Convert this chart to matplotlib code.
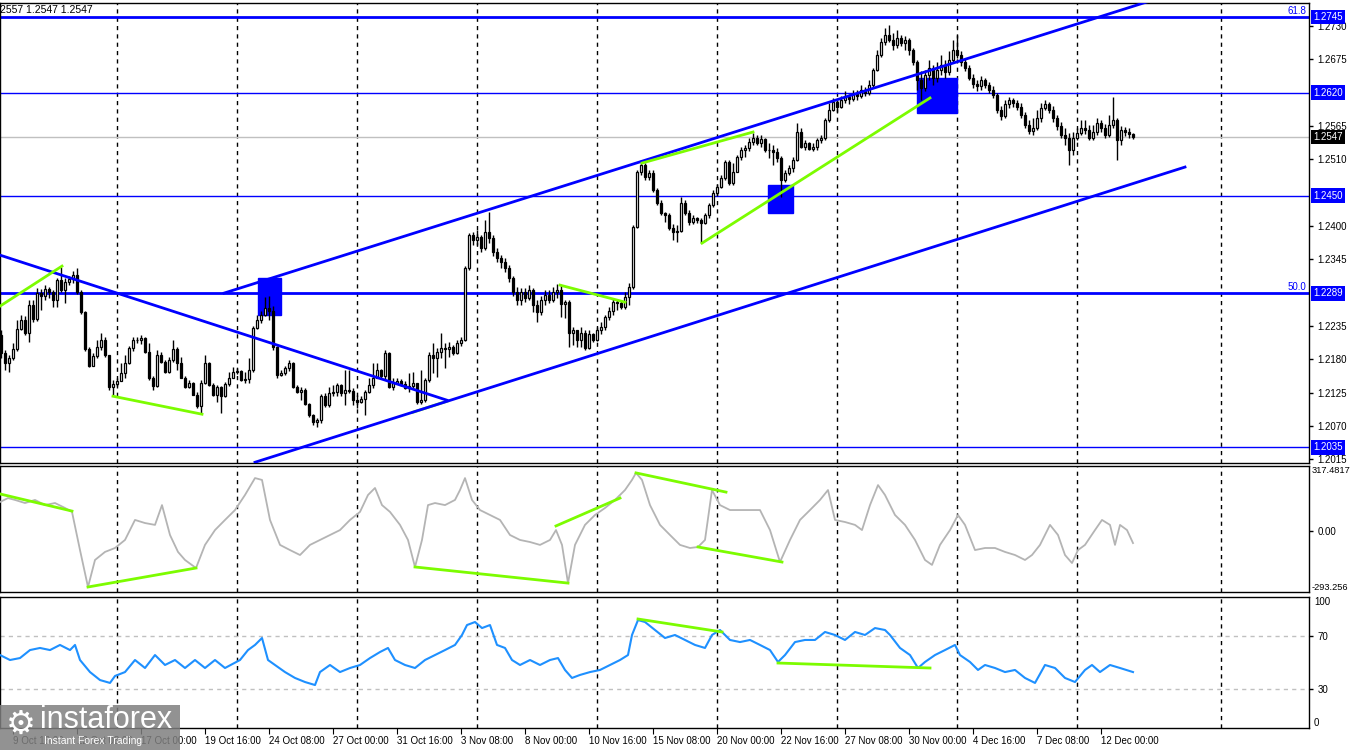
import numpy as np
import matplotlib
matplotlib.use("Agg")
import matplotlib.pyplot as plt
from matplotlib.patches import Rectangle

plt.rcParams['font.family'] = ['Liberation Sans', 'DejaVu Sans']

# ---------------- data ----------------
first_open = 1.2221
close = [1.2190,1.2174,1.2182,1.2197,1.2230,1.2245,1.2223,1.2270,1.2246,1.2289,
1.2284,1.2296,1.2291,1.2278,1.2311,1.2294,1.2308,1.2312,1.2319,1.2291,
1.2258,1.2197,1.2169,1.2185,1.2200,1.2212,1.2187,1.2134,1.2139,1.2144,
1.2157,1.2174,1.2199,1.2212,1.2212,1.2215,1.2192,1.2149,1.2136,1.2188,
1.2176,1.2159,1.2179,1.2197,1.2174,1.2150,1.2134,1.2141,1.2122,1.2103,
1.2141,1.2174,1.2138,1.2121,1.2134,1.2119,1.2139,1.2150,1.2159,1.2160,
1.2146,1.2148,1.2162,1.2232,1.2245,1.2253,1.2265,1.2259,1.2200,1.2154,
1.2157,1.2166,1.2174,1.2134,1.2126,1.2129,1.2106,1.2088,1.2077,1.2080,
1.2119,1.2105,1.2124,1.2126,1.2138,1.2124,1.2129,1.2128,1.2113,1.2110,
1.2115,1.2126,1.2138,1.2150,1.2162,1.2152,1.2190,1.2134,1.2141,1.2144,
1.2139,1.2132,1.2136,1.2141,1.2110,1.2113,1.2146,1.2187,1.2183,1.2192,
1.2199,1.2197,1.2200,1.2190,1.2207,1.2212,1.2330,1.2385,
1.2377,1.2382,1.2364,1.2390,1.2380,1.2357,1.2347,1.2341,1.2331,1.2314,
1.2291,1.2278,1.2291,1.2281,1.2294,1.2270,1.2258,1.2278,1.2286,1.2278,
1.2291,1.2294,1.2271,1.2275,1.2223,1.2228,1.2212,1.2223,1.2198,1.2222,
1.2212,1.2228,1.2233,1.2250,1.2259,1.2275,1.2273,1.2266,1.2283,1.2299,
1.2398,1.2489,1.2501,1.2481,1.2487,1.2459,1.2438,1.2421,1.2418,1.2396,
1.2390,1.2391,1.2438,1.2421,1.2407,1.2413,1.2410,1.2405,1.2418,1.2435,
1.2454,1.2464,1.2479,1.2506,1.2471,1.2489,1.2514,1.2525,1.2529,1.2539,
1.2545,1.2537,1.2544,1.2525,1.2525,1.2522,1.2512,1.2476,1.2487,1.2496,
1.2509,1.2555,1.2530,1.2537,1.2527,1.2530,1.2542,1.2545,1.2575,1.2592,
1.2605,1.2597,1.2608,1.2613,1.2610,1.2618,1.2615,1.2625,1.2620,1.2633,
1.2658,1.2682,1.2704,1.2715,1.2707,1.2699,1.2710,1.2702,1.2707,1.2691,
1.2671,1.2641,1.2628,1.2650,1.2661,1.2644,1.2658,1.2666,1.2654,1.2674,
1.2691,1.2682,1.2671,1.2661,1.2644,1.2634,1.2631,1.2641,1.2633,1.2625,
1.2616,1.2592,1.2582,1.2601,1.2608,1.2603,1.2597,1.2583,1.2567,1.2557,
1.2562,1.2578,1.2595,1.2601,1.2592,1.2578,1.2565,1.2550,1.2545,1.2525,
1.2545,1.2553,1.2562,1.2558,1.2545,1.2555,1.2570,1.2562,1.2550,1.2567,
1.2575,1.2542,1.2558,1.2555,1.2552,1.2547]
high = [1.2228,1.2195,1.2187,1.2207,1.2245,1.2253,1.2251,1.2278,1.2278,1.2297,
1.2296,1.2302,1.2299,1.2294,1.2314,1.2332,1.2314,1.2317,1.2325,1.2330,
1.2294,1.2259,1.2200,1.2190,1.2212,1.2223,1.2217,1.2188,1.2146,1.2149,
1.2174,1.2187,1.2202,1.2217,1.2217,1.2220,1.2217,1.2207,1.2152,1.2195,
1.2192,1.2179,1.2184,1.2212,1.2200,1.2184,1.2152,1.2146,1.2143,1.2126,
1.2146,1.2188,1.2176,1.2141,1.2138,1.2136,1.2143,1.2159,1.2167,1.2166,
1.2162,1.2159,1.2182,1.2235,1.2253,1.2259,1.2283,1.2284,1.2268,1.2202,
1.2162,1.2169,1.2179,1.2176,1.2138,1.2134,1.2132,1.2108,1.2090,1.2083,
1.2123,1.2124,1.2134,1.2138,1.2141,1.2139,1.2162,1.2162,1.2132,1.2121,
1.2119,1.2129,1.2150,1.2174,1.2174,1.2164,1.2195,1.2192,1.2149,1.2149,
1.2148,1.2144,1.2157,1.2159,1.2141,1.2162,1.2149,1.2192,1.2207,1.2199,
1.2223,1.2207,1.2209,1.2204,1.2212,1.2217,1.2334,1.2388,
1.2390,1.2393,1.2386,1.2410,1.2423,1.2385,1.2364,1.2352,1.2347,1.2336,
1.2318,1.2299,1.2297,1.2297,1.2302,1.2297,1.2278,1.2284,1.2294,1.2294,
1.2299,1.2304,1.2302,1.2278,1.2278,1.2233,1.2228,1.2233,1.2228,1.2228,
1.2223,1.2233,1.2242,1.2253,1.2266,1.2281,1.2278,1.2276,1.2291,1.2306,
1.2402,1.2492,1.2509,1.2504,1.2492,1.2492,1.2463,1.2443,1.2423,1.2421,
1.2403,1.2402,1.2448,1.2443,1.2426,1.2418,1.2415,1.2413,1.2421,1.2438,
1.2459,1.2469,1.2484,1.2509,1.2509,1.2504,1.2517,1.2530,1.2534,1.2545,
1.2553,1.2550,1.2550,1.2545,1.2537,1.2534,1.2529,1.2515,1.2492,1.2501,
1.2514,1.2570,1.2562,1.2542,1.2539,1.2537,1.2545,1.2550,1.2578,1.2603,
1.2611,1.2608,1.2615,1.2622,1.2618,1.2625,1.2625,1.2632,1.2630,1.2641,
1.2661,1.2691,1.2710,1.2727,1.2732,1.2719,1.2724,1.2715,1.2713,1.2710,
1.2694,1.2674,1.2655,1.2658,1.2674,1.2666,1.2671,1.2682,1.2674,1.2688,
1.2707,1.2715,1.2688,1.2677,1.2666,1.2651,1.2641,1.2648,1.2644,1.2638,
1.2631,1.2620,1.2598,1.2608,1.2613,1.2611,1.2608,1.2603,1.2588,1.2575,
1.2578,1.2592,1.2603,1.2608,1.2605,1.2598,1.2583,1.2572,1.2562,1.2553,
1.2555,1.2562,1.2575,1.2575,1.2567,1.2567,1.2578,1.2575,1.2569,1.2583,
1.2613,1.2578,1.2565,1.2563,1.2562,1.2553]
low = [1.2183,1.2162,1.2159,1.2179,1.2194,1.2228,1.2220,1.2209,1.2242,1.2243,
1.2261,1.2278,1.2281,1.2266,1.2266,1.2291,1.2273,1.2302,1.2306,1.2288,
1.2255,1.2194,1.2167,1.2169,1.2182,1.2195,1.2184,1.2129,1.2121,1.2136,
1.2144,1.2149,1.2172,1.2194,1.2207,1.2205,1.2190,1.2146,1.2129,1.2134,
1.2174,1.2157,1.2157,1.2176,1.2162,1.2149,1.2132,1.2132,1.2121,1.2100,
1.2090,1.2139,1.2136,1.2119,1.2110,1.2091,1.2118,1.2136,1.2149,1.2156,
1.2144,1.2141,1.2141,1.2159,1.2230,1.2240,1.2251,1.2245,1.2195,1.2150,
1.2152,1.2154,1.2160,1.2132,1.2124,1.2113,1.2105,1.2085,1.2071,1.2068,
1.2075,1.2101,1.2101,1.2119,1.2119,1.2119,1.2105,1.2124,1.2105,1.2100,
1.2108,1.2088,1.2124,1.2132,1.2149,1.2149,1.2146,1.2132,1.2129,1.2139,
1.2136,1.2131,1.2126,1.2132,1.2106,1.2106,1.2110,1.2143,1.2157,1.2151,
1.2182,1.2166,1.2184,1.2187,1.2189,1.2202,1.2210,1.2327,
1.2369,1.2369,1.2357,1.2360,1.2372,1.2350,1.2341,1.2331,1.2324,1.2308,
1.2284,1.2270,1.2270,1.2275,1.2278,1.2258,1.2242,1.2254,1.2270,1.2273,
1.2275,1.2281,1.2250,1.2248,1.2200,1.2203,1.2200,1.2200,1.2195,1.2197,
1.2209,1.2210,1.2222,1.2228,1.2245,1.2253,1.2261,1.2263,1.2263,1.2270,
1.2296,1.2397,1.2484,1.2476,1.2476,1.2456,1.2435,1.2418,1.2407,1.2393,
1.2377,1.2374,1.2390,1.2418,1.2402,1.2403,1.2405,1.2372,1.2403,1.2413,
1.2431,1.2449,1.2463,1.2476,1.2467,1.2467,1.2492,1.2509,1.2514,1.2524,
1.2534,1.2534,1.2530,1.2522,1.2512,1.2500,1.2506,1.2448,1.2473,1.2484,
1.2489,1.2507,1.2529,1.2525,1.2525,1.2524,1.2525,1.2537,1.2542,1.2572,
1.2590,1.2588,1.2595,1.2603,1.2601,1.2606,1.2608,1.2612,1.2615,1.2616,
1.2630,1.2655,1.2679,1.2699,1.2704,1.2691,1.2694,1.2697,1.2691,1.2682,
1.2666,1.2625,1.2608,1.2622,1.2641,1.2633,1.2638,1.2650,1.2644,1.2650,
1.2669,1.2677,1.2664,1.2655,1.2641,1.2628,1.2622,1.2625,1.2628,1.2620,
1.2611,1.2587,1.2575,1.2578,1.2595,1.2597,1.2592,1.2578,1.2562,1.2552,
1.2550,1.2558,1.2572,1.2592,1.2587,1.2572,1.2558,1.2545,1.2534,1.2500,
1.2517,1.2542,1.2550,1.2552,1.2542,1.2542,1.2550,1.2555,1.2545,1.2547,
1.2562,1.2509,1.2534,1.2548,1.2545,1.2544]

time_labels = ["9 Oct 16:00", "12 Oct 08:00", "17 Oct 00:00", "19 Oct 16:00",
               "24 Oct 08:00", "27 Oct 00:00", "31 Oct 16:00", "3 Nov 08:00",
               "8 Nov 00:00", "10 Nov 16:00", "15 Nov 08:00", "20 Nov 00:00",
               "22 Nov 16:00", "27 Nov 08:00", "30 Nov 00:00", "4 Dec 16:00",
               "7 Dec 08:00", "12 Dec 00:00"]
time_label_bars = [4, 20, 36, 52, 68, 84, 100, 116, 132, 148, 164, 180, 196,
                   212, 228, 244, 260, 276]
week_sep_bars = [30, 60, 90, 120, 150, 180, 210, 240, 270, 306]

price_ticks = [1.2015, 1.2070, 1.2125, 1.2180, 1.2235, 1.2345, 1.2400,
               1.2510, 1.2565, 1.2675, 1.2730]
levels = [1.2745, 1.2620, 1.2450, 1.2289, 1.2035]
level_widths = [2, 1, 1, 2, 1]
last_price = 1.2547

rsi_bars = [0.75,3.25,5.75,8.25,10.75,13.25,15.75,18.25,19.5,20.75,23.25,25.75,28.25,29.5,32,
            34.5,37,39.5,42,44.5,47,49.5,52,54.5,57,60.75,62.75,64.5,66.25,67.75,69.5,72,74.5,
            77,79.5,80.75,83.25,85.75,88.25,90.75,93.25,95.75,97.75,99.5,102,104.5,107,109.5,
            112,114.5,116.25,117.5,119.5,121.25,123.25,125,127,128.75,130.75,133.25,135.75,
            138.25,140.25,142,143.75,145.75,148.25,150.75,153.25,155.75,157.75,158.75,160.25,
            162,164.5,167,169.5,172,174.5,177,178.75,180.75,183.25,185.75,188.25,190.75,
            193.25,195.25,197,199.5,202,204.5,207,209.5,212,214.5,217,219.5,222,223.25,225.75,
            228.25,230.25,232,234.5,237,239.5,240.75,243.25,245.25,247,249.5,252,254.5,257,
            259.5,262,264.5,267,269.5,272,273.75,275.75,278.25,280.75,284]
rsi_vals = [55.7,51.9,53.4,59.5,61.1,59.5,63.4,59.5,63.4,51.9,42.7,36.6,34.4,39.7,42.7,51.9,45.8,
            55.7,48.1,51.9,45.8,51.9,45.8,51.9,45.8,51.9,59.5,63.4,68.7,51.9,48.1,42.7,38.2,
            35.1,32.8,42.7,48.1,42.7,45.8,48.1,53.4,58.0,61.1,51.9,48.1,45.8,51.9,55.7,59.5,
            63.4,71.0,78.6,80.9,76.3,78.6,63.4,61.1,51.9,48.1,51.9,48.1,51.9,53.4,44.3,38.2,
            40.5,42.7,44.3,48.1,51.9,55.7,71.0,82.4,80.9,74.8,68.7,71.0,67.2,63.4,61.1,71.0,
            74.8,67.2,65.6,67.2,63.4,59.5,50.4,55.7,65.6,67.2,67.2,73.3,71.0,67.2,73.3,71.0,
            76.3,74.8,71.0,61.1,55.7,45.8,50.4,55.7,59.5,63.4,55.7,50.4,44.3,48.1,45.8,42.7,
            44.3,38.2,34.4,48.1,45.8,38.2,35.1,44.3,48.1,42.7,48.1,45.8,42.7]
cci_bars = [0.75,2.75,4.5,7,9.5,12,14.5,17,18.75,20.75,22.75,24.5,27,29.5,32,34.5,37,39.5,
            41.25,43.25,45.25,47,49.75,52,54.5,57,59.5,62,64.5,66.25,68.25,70.75,73.25,75.75,
            78.25,80.75,83.25,85.75,88.25,90.75,92.75,94.5,96.25,98.25,100.75,102.75,104.5,
            106.25,107.75,109.5,112,114.5,115.75,117,118.75,120.75,123.25,125.75,128.25,
            130.75,133.25,135.75,138.25,139.75,141.25,142.75,144.5,147,149.5,152,154.5,157,
            158.75,159.75,161.25,163.25,165.75,168.25,170.75,173.25,175.25,177,178.75,180.75,
            183.25,185.75,188.25,190.75,193.25,195.75,198.25,200.75,203.25,205.75,207.75,
            209.5,212,214.5,216.25,218.25,220.25,222,224.5,227,229.5,232,233.75,235.75,
            238.25,240.25,242,244.5,247,249.5,252,254.5,257,258.75,260.75,263.25,265.25,267,
            268.75,270.25,272,274.5,276.25,278.25,279.5,280.75,282.5,284]
cci_vals = [143,162,153,138,153,128,138,114,95,-90,-269,-138,-99,-80,-41,56,41,32,128,-17,-99,
            -138,-177,-65,7,56,104,177,259,250,56,-65,-90,-114,-65,-41,-17,7,56,95,177,211,128,
            95,32,-41,-172,-41,128,138,128,153,201,259,153,104,80,56,-17,-41,-51,-65,-41,7,
            -65,-250,-65,32,80,114,153,201,250,284,250,128,32,-17,-65,-80,-75,-41,201,128,104,
            104,104,104,7,-148,-41,56,104,153,201,56,46,32,7,128,225,177,80,32,-41,-138,-162,
            -65,7,80,32,-90,-80,-80,-99,-114,-138,-114,-65,32,-17,-114,-153,-90,-65,7,56,32,
            -65,32,7,-56]

# --------------- figure -----------------
W, H = 1350, 750
fig = plt.figure(figsize=(13.5, 7.5), dpi=100)
fig.patch.set_facecolor('white')
FS = 7


def ax_at(l, t, r, b):
    return fig.add_axes([l / W, 1 - b / H, (r - l) / W, (b - t) / H])


ax = ax_at(0, 3, 1309, 463)
axc = ax_at(0, 466, 1309, 592)
axr = ax_at(0, 597, 1309, 728)

XL = (0.75, 328)
for a in (ax, axc, axr):
    a.set_xlim(*XL)
    a.set_facecolor('white')
    for s in a.spines.values():
        s.set_color('black')
        s.set_linewidth(1)
    a.tick_params(axis='x', bottom=False, labelbottom=False)
    a.yaxis.tick_right()
    a.tick_params(axis='y', direction='out', length=3, width=1, colors='black',
                  labelsize=FS, pad=3)
    for b in week_sep_bars:
        a.axvline(b, color='black', lw=1, ls=(0, (3, 3)), zorder=1)

# ---- candles ----
n = len(close)
bars = np.arange(1, n + 1)
c = np.array(close)
o = np.concatenate([[first_open], c[:-1]])
hi = np.maximum(np.array(high), np.maximum(o, c))
lo = np.minimum(np.array(low), np.minimum(o, c))

ax.vlines(bars, lo, hi, color='black', lw=1, zorder=3)
up = c >= o
body_b = np.minimum(o, c)
body_h = np.maximum(np.abs(c - o), 0.00004)
ax.bar(bars[up], body_h[up], bottom=body_b[up], width=0.7, color='white',
       edgecolor='black', lw=0.9, zorder=4)
ax.bar(bars[~up], body_h[~up], bottom=body_b[~up], width=0.7, color='black',
       edgecolor='black', lw=0.9, zorder=4)

ax.set_ylim(1.2009, 1.2768)
ax.set_yticks(price_ticks)
ax.set_yticklabels([f"{t:.4f}" for t in price_ticks])

# horizontal levels
for lv, lw in zip(levels, level_widths):
    ax.axhline(lv, color='#0000ff', lw=lw, zorder=2)
ax.axhline(last_price, color='#c0c0c0', lw=1, zorder=1.5)

# trend lines
ax.plot([104, 112.5], [1.20928, 1.21109], color='#7cfc00', lw=2, zorder=4.5)
ax.plot([0.75, 112.5], [1.2352, 1.21126], color='#0000ff', lw=2, zorder=5)
ax.plot([56.75, 297], [1.22893, 1.27896], color='#0000ff', lw=2, zorder=5)
ax.plot([64.5, 297], [1.20102, 1.24973], color='#0000ff', lw=2, zorder=5)

# green divergence lines
for (x0, y0, x1, y1) in [(0.75, 1.22678, 16.25, 1.23339), (29, 1.21192, 51.25, 1.20895),
                         (140.75, 1.23025, 157, 1.22744), (161.25, 1.25039, 189, 1.25551),
                         (176.25, 1.23718, 233.25, 1.26113)]:
    ax.plot([x0, x1], [y0, y1], color='#7cfc00', lw=2, zorder=5)

# blue boxes (behind candles)
for (x0, x1, p0, p1) in [(65.25, 71, 1.2253, 1.23141), (192.75, 199, 1.24214, 1.24676),
                         (230, 240, 1.25865, 1.26443)]:
    ax.add_patch(Rectangle((x0, p0), x1 - x0, p1 - p0, color='#0000ff', zorder=2.8))

tr = ax.get_yaxis_transform()
for lv in levels:
    ax.text(1 + 4 / 1309, lv, f"{lv:.4f}", transform=tr, ha='left', va='center',
            color='white', fontsize=FS, clip_on=False, zorder=10,
            bbox=dict(boxstyle='square,pad=0.25', fc='#0000ff', ec='none'))
ax.text(1 + 4 / 1309, last_price, f"{last_price:.4f}", transform=tr, ha='left',
        va='center', color='white', fontsize=FS, clip_on=False, zorder=10,
        bbox=dict(boxstyle='square,pad=0.25', fc='black', ec='none'))
ax.text(0.998, 1.2745 + 0.0002, "61.8", transform=tr, ha='right', va='bottom',
        color='#0000ff', fontsize=FS, zorder=10)
ax.text(0.998, 1.2289 + 0.0002, "50.0", transform=tr, ha='right', va='bottom',
        color='#0000ff', fontsize=FS, zorder=10)
ax.text(0.0, 0.984, "2557 1.2547 1.2547", transform=ax.transAxes, ha='left', va='center',
        fontsize=FS + 0.5, color='black', zorder=10)

# ---- CCI ----
axc.plot(cci_bars, cci_vals, color='#b4b4b4', lw=1.3, zorder=3)
axc.set_ylim(-293.256, 317.4817)
axc.set_yticks([0])
axc.set_yticklabels(["0.00"])
ctr = axc.get_yaxis_transform()
axc.text(1 + 3 / 1309, 317.4817, "317.4817", transform=ctr, ha='left', va='top',
         fontsize=FS - 0.3, clip_on=False)
axc.text(1 + 3 / 1309, -293.256, "-293.256", transform=ctr, ha='left', va='bottom',
         fontsize=FS - 0.3, clip_on=False)
for (x0, y0, x1, y1) in [(0.75, 182, 18.75, 99), (22.75, -269, 49.75, -177),
                         (104.5, -172, 142.75, -250), (139.75, 27, 155.75, 162),
                         (159.75, 284, 182.25, 191), (175.25, -75, 196.25, -148)]:
    axc.plot([x0, x1], [y0, y1], color='#7cfc00', lw=2, zorder=4)

# ---- RSI ----
axr.plot(rsi_bars, rsi_vals, color='#1e90ff', lw=1.5, zorder=3)
axr.set_ylim(0, 100)
axr.set_yticks([70, 30])
axr.set_yticklabels(["70", "30"])
for lv in (70, 30):
    axr.axhline(lv, color='#c0c0c0', lw=1, ls=(0, (3, 3)), zorder=1)
rtr = axr.get_yaxis_transform()
axr.text(1 + 5 / 1309, 100, "100", transform=rtr, ha='left', va='top', fontsize=FS,
         clip_on=False)
axr.text(1 + 5 / 1309, 0, "0", transform=rtr, ha='left', va='bottom', fontsize=FS,
         clip_on=False)
for (x0, y0, x1, y1) in [(160.25, 83.2, 181.25, 73.3), (195.25, 49.6, 233.25, 45.8)]:
    axr.plot([x0, x1], [y0, y1], color='#7cfc00', lw=2, zorder=4)

axr.tick_params(axis='x', bottom=True, labelbottom=True, direction='out', length=4,
                labelsize=FS, pad=2)
axr.set_xticks(time_label_bars)
axr.set_xticklabels(time_labels)
for lbl in axr.get_xticklabels():
    lbl.set_ha('left')

# ---- watermark ----
fig.patches.append(Rectangle((0, 0), 180 / W, 45 / H, transform=fig.transFigure,
                             facecolor='#7f7f7f', alpha=0.85, edgecolor='none', zorder=20))
fig.text(6 / W, 1 - 724 / H, "\u2699", fontsize=24, color='white', ha='left', va='center',
         zorder=21, family='DejaVu Sans')
fig.text(40 / W, 1 - 720 / H, "instaforex", fontsize=22, color='white', ha='left',
         va='center', zorder=21)
fig.text(44 / W, 1 - 741 / H, "Instant Forex Trading", fontsize=7.5, color='white',
         ha='left', va='center', zorder=21)

fig.savefig("out.png", dpi=100, facecolor='white')
